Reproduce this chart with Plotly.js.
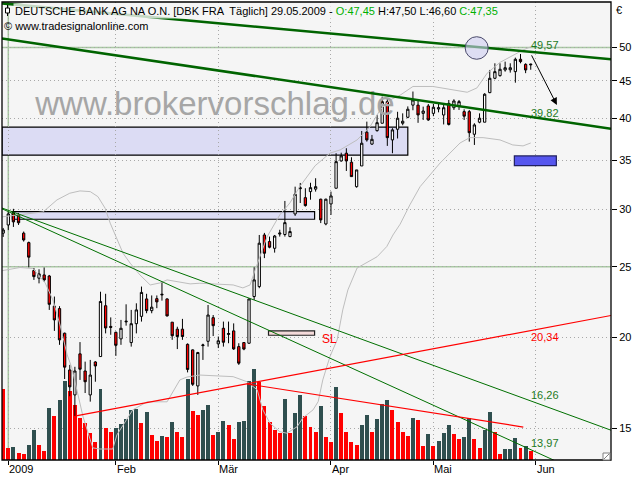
<!DOCTYPE html>
<html><head><meta charset="utf-8">
<script src="https://cdn.plot.ly/plotly-3.0.1.min.js"></script>
<style>html,body{margin:0;padding:0;background:#fff}</style>
</head><body>
<div id="chart" style="width:640px;height:480px"></div>
<script>
// ---- data (DBK Xetra, daily) ----
const dates = ['2008-12-30',
 '2009-01-02','2009-01-05','2009-01-06','2009-01-07','2009-01-08','2009-01-09','2009-01-12','2009-01-13','2009-01-14','2009-01-15','2009-01-16',
 '2009-01-19','2009-01-20','2009-01-21','2009-01-22','2009-01-23','2009-01-26','2009-01-27','2009-01-28','2009-01-29','2009-01-30',
 '2009-02-02','2009-02-03','2009-02-04','2009-02-05','2009-02-06','2009-02-09','2009-02-10','2009-02-11','2009-02-12','2009-02-13',
 '2009-02-16','2009-02-17','2009-02-18','2009-02-19','2009-02-20','2009-02-23','2009-02-24','2009-02-25','2009-02-26','2009-02-27',
 '2009-03-02','2009-03-03','2009-03-04','2009-03-05','2009-03-06','2009-03-09','2009-03-10','2009-03-11','2009-03-12','2009-03-13',
 '2009-03-16','2009-03-17','2009-03-18','2009-03-19','2009-03-20','2009-03-23','2009-03-24','2009-03-25','2009-03-26','2009-03-27','2009-03-30','2009-03-31',
 '2009-04-01','2009-04-02','2009-04-03','2009-04-06','2009-04-07','2009-04-08','2009-04-09','2009-04-14','2009-04-15','2009-04-16','2009-04-17',
 '2009-04-20','2009-04-21','2009-04-22','2009-04-23','2009-04-24','2009-04-27','2009-04-28','2009-04-29','2009-04-30',
 '2009-05-04','2009-05-05','2009-05-06','2009-05-07','2009-05-08','2009-05-11','2009-05-12','2009-05-13','2009-05-14','2009-05-15',
 '2009-05-18','2009-05-19','2009-05-20','2009-05-21','2009-05-22','2009-05-25','2009-05-26','2009-05-27','2009-05-28','2009-05-29'];

const openP = [27.80,28.53,29.63,29.45,27.80,26.98,24.70,24.11,24.36,24.28,22.07,
 21.90,20.26,18.04,16.67,18.98,17.98,16.67,18.50,18.82,22.10,
 20.70,20.32,19.90,21.00,19.67,20.88,21.37,22.58,21.76,22.60,
 22.92,22.58,20.98,20.52,20.52,19.56,19.22,17.15,19.48,19.75,
 21.28,19.59,20.58,20.18,20.41,19.42,19.67,19.63,22.75,23.48,
 27.64,27.07,26.50,27.72,27.68,27.50,29.54,32.00,31.10,31.70,
 31.95,30.95,28.62,30.49,32.04,34.93,35.79,34.79,32.20,34.38,
 38.25,36.84,38.44,39.35,42.13,37.33,38.61,39.35,40.10,41.67,
 41.67,40.60,41.56,40.60,41.16,40.39,41.90,41.33,41.56,40.82,
 40.82,38.00,39.48,39.48,43.35,45.36,45.74,46.57,46.60,46.32,
 48.17,47.40,47.45];
const highP = [28.26,29.74,30.02,29.63,27.94,27.07,24.90,24.80,24.94,24.36,22.75,
 22.07,20.30,18.33,18.22,19.70,18.52,18.62,18.55,23.10,22.95,
 21.30,20.36,21.13,22.20,21.81,22.27,23.48,22.95,22.83,22.83,
 23.85,22.62,20.98,20.68,21.20,19.62,19.25,19.10,19.60,22.15,
 21.46,20.05,21.02,21.02,20.90,19.63,19.70,22.60,24.96,27.64,
 27.82,27.50,27.64,28.10,30.78,28.32,32.20,32.58,32.04,32.60,
 33.07,31.00,31.00,31.70,35.79,35.85,36.36,35.34,33.95,38.40,
 39.55,37.92,40.40,42.80,42.58,38.74,40.80,40.60,41.50,43.50,
 42.35,41.47,41.82,41.82,41.82,41.90,42.35,42.45,42.35,41.12,
 41.04,39.35,40.60,43.27,46.57,47.56,47.56,47.81,47.56,48.42,
 48.98,47.56,47.50];
const lowP = [27.47,28.08,28.35,28.53,27.07,24.94,23.98,23.72,23.85,21.81,20.41,
 19.53,17.53,16.60,15.60,17.48,16.77,16.32,17.38,18.82,20.25,
 20.16,18.86,19.53,20.75,19.42,20.25,21.02,21.58,21.58,21.93,
 22.46,21.36,19.84,19.27,19.84,17.90,17.15,16.67,18.62,19.42,
 20.08,19.33,19.42,19.63,19.22,18.33,19.20,19.60,22.51,23.36,
 25.69,26.50,26.14,27.50,27.50,27.45,29.36,30.58,30.23,30.90,
 31.70,28.70,28.50,29.45,32.04,34.85,33.84,33.24,32.10,34.38,
 37.13,36.74,38.32,39.35,36.63,35.79,37.50,39.10,39.98,41.00,
 39.40,39.76,39.65,40.24,40.73,39.20,39.07,41.04,41.04,39.76,
 37.13,36.74,39.35,39.48,43.27,45.22,45.60,46.32,46.18,44.73,
 47.56,46.10,46.60];
const closeP = [28.08,29.54,28.81,28.73,27.21,25.77,24.23,24.44,23.98,22.20,21.13,
 19.84,18.20,17.10,17.98,18.08,17.38,17.75,18.27,22.40,20.60,
 20.64,19.50,20.58,21.04,20.88,21.81,23.05,21.76,22.00,22.37,
 22.88,21.40,20.10,20.05,20.05,18.07,17.24,19.06,19.52,21.46,
 20.75,19.78,19.69,20.24,19.28,18.43,19.27,22.58,23.98,26.93,
 26.09,26.59,27.55,27.80,28.74,27.94,31.44,32.08,30.33,32.10,
 32.20,28.99,30.95,31.27,34.85,35.49,34.93,33.24,33.95,36.94,
 37.33,37.40,39.42,42.13,37.60,38.53,39.98,39.60,41.13,42.35,
 40.40,40.90,39.76,41.39,41.33,41.33,39.20,42.22,42.13,40.24,
 38.19,39.14,39.98,43.13,45.36,46.32,46.67,46.90,46.90,48.17,
 47.81,46.57,47.35];
// volume, millions of shares
const volume = [7.80,1.35,1.46,0.80,0.66,1.64,3.29,1.64,1.02,5.67,4.82,
 6.58,8.59,7.49,6.03,4.57,4.02,2.99,2.01,7.79,3.54,
 3.10,3.54,3.95,4.46,5.48,5.54,4.09,5.19,2.74,2.12,
 2.63,2.49,4.17,3.10,2.55,8.85,5.30,4.93,5.41,6.03,
 2.74,3.10,4.31,3.84,2.27,4.20,4.22,8.66,9.98,8.48,
 5.95,4.20,3.29,2.99,6.69,2.99,5.12,7.13,4.82,3.65,
 3.10,5.95,2.55,2.01,7.93,5.12,3.10,2.01,1.64,3.84,
 4.93,3.10,4.50,6.11,6.58,5.48,4.20,3.10,2.66,4.64,
 4.39,1.54,2.85,1.54,2.12,2.99,3.84,2.85,2.30,2.55,
 4.57,2.30,1.35,3.29,5.19,3.10,0.66,1.21,1.22,2.45,
 1.35,1.54,0.99];

// Bollinger bands (read at sample positions, trading-day index)
const bbUpIdx = [-1.2,6.8,9.5,12.0,14.0,16.0,17.5,18.9,19.9,21.2,22.4,23.8,25.7,27.7,29.6,31.0,32.9,35.5,37.4,41.3,43.9,45.8,47.2,48.2,50.5,53.0,55.0,56.9,59.9,62.8,64.8,68.1,70.6,72.6,74.5,76.5,79.0,82.9,86.8,89.6,91.5,93.5,96.0,98.5,100.5,102];
const bbUpVal = [29.27,29.73,30.88,31.54,31.77,31.70,31.20,30.08,28.69,27.36,26.09,25.28,24.36,23.60,23.75,23.98,23.83,23.68,23.73,23.68,23.60,23.38,23.60,24.75,27.46,29.45,30.60,32.20,34.40,35.80,36.17,37.33,38.90,41.04,42.35,43.00,44.20,44.20,43.70,43.40,44.00,46.10,47.70,48.80,49.60,50.10];
const bbLoIdx = [-1.2,2.3,4.8,6.2,7.2,8.7,10.1,11.5,12.4,14.6,16.5,17.9,20.4,21.2,24.3,27.1,31.0,33.5,34.9,37.4,41.3,43.9,46.6,48.6,49.7,51.1,53.0,54.4,56.4,57.5,59.5,60.5,61.4,62.8,64.2,65.3,66.3,68.1,72.0,73.9,75.1,76.5,78.4,80.4,84.3,88.2,90.1,92.7,96.0,98.5,100.5,102];
const bbLoVal = [24.69,24.94,24.86,24.23,23.75,22.51,20.80,18.92,18.16,15.55,14.10,14.05,14.05,14.69,15.90,16.31,16.31,17.48,17.64,17.75,17.70,17.66,17.38,16.94,15.90,15.24,14.84,14.77,15.08,15.50,15.90,16.32,17.48,18.82,19.84,21.81,23.23,24.90,25.80,26.65,27.64,28.60,30.40,32.20,34.70,36.97,37.60,37.60,37.33,36.74,36.63,36.97];

// trend lines: [startIdx, endIdx], [startValue, endValue]
const lineUpperIdx = [-1.23, 117.67], lineUpperVal = [57.48, 48.17];
const lineLowerIdx = [-1.23, 117.67], lineLowerVal = [51.45, 38.67];
const lineThinAIdx = [-1.23, 117.67], lineThinAVal = [30.10, 14.91];
const lineThinBIdx = [-1.23, 117.67], lineThinBVal = [30.03, 12.49];
const lineRedUpIdx = [13.2, 117.67], lineRedUpVal = [15.60, 21.43];
const lineRedDnIdx = [46.6, 100.55], lineRedDnVal = [17.26, 15.06];

// line value labels at last bar
const labelValues = [49.57, 39.82, 20.34, 16.26, 13.97];
const labelColors = ['#1E7A1E', '#1E7A1E', '#FF0000', '#1E7A1E', '#1E7A1E'];

// zones (index range, price range)
const zoneBig = {x: [-1.23, 78.0], y: [35.57, 38.86]};
const zoneSmall = {x: [0.78, 59.8], y: [29.05, 29.76]};
const zoneSL = {x: [50.8, 59.8], y: [20.13, 20.41]};
const zoneTarget = {x: [98.8, 107.0], y: [34.41, 35.49]};
const zoneCircle = {x: [89.2, 93.7], y: [48.17, 51.73]};

const tickPos = [0, 21, 41, 63, 83, 103];
const tickLabels = ['2009', 'Feb', 'Mär', 'Apr', 'Mai', 'Jun'];
const priceTicks = [15, 20, 25, 30, 35, 40, 45, 50];

// ---- build ----
const xi = dates.map((d, i) => i - 1);
const volColors = volume.map((v, i) => (i > 0 && v > volume[i - 1]) ? '#2F4F4F' : '#FF0000');
const FONT = 'Liberation Sans, Arial, sans-serif';
const X0 = -1.23, X1 = 117.67;

const traces = [
  {type: 'bar', x: xi, y: volume, width: 0.78, marker: {color: volColors, line: {width: 0}},
   yaxis: 'y', hoverinfo: 'skip'},
  {type: 'scatter', mode: 'lines', x: bbUpIdx, y: bbUpVal, yaxis: 'y2',
   line: {color: '#BEBEBE', width: 1}, hoverinfo: 'skip'},
  {type: 'scatter', mode: 'lines', x: bbLoIdx, y: bbLoVal, yaxis: 'y2',
   line: {color: '#BEBEBE', width: 1}, hoverinfo: 'skip'},
  {type: 'scatter', mode: 'text', x: [40.35], y: [41.4], text: ['www.brokervorschlag.de'],
   textposition: 'middle center', yaxis: 'y2',
   textfont: {family: FONT, size: 33, color: '#A6A6A6'}, hoverinfo: 'skip'},
  {type: 'candlestick', x: xi, open: openP, high: highP, low: lowP, close: closeP, yaxis: 'y2',
   increasing: {line: {color: '#000000', width: 1}, fillcolor: '#FFFFFF'},
   decreasing: {line: {color: '#000000', width: 1}, fillcolor: '#FF0000'},
   whiskerwidth: 0, hoverinfo: 'skip'},
  {type: 'scatter', mode: 'lines', x: lineThinAIdx, y: lineThinAVal, yaxis: 'y2', line: {color: '#007000', width: 1}, hoverinfo: 'skip'},
  {type: 'scatter', mode: 'lines', x: lineThinBIdx, y: lineThinBVal, yaxis: 'y2', line: {color: '#007000', width: 1}, hoverinfo: 'skip'},
  {type: 'scatter', mode: 'lines', x: lineRedUpIdx, y: lineRedUpVal, yaxis: 'y2', line: {color: '#FF0000', width: 1.2}, hoverinfo: 'skip'},
  {type: 'scatter', mode: 'lines', x: lineRedDnIdx, y: lineRedDnVal, yaxis: 'y2', line: {color: '#FF0000', width: 1.2}, hoverinfo: 'skip'},
  {type: 'scatter', mode: 'lines', x: lineUpperIdx, y: lineUpperVal, yaxis: 'y2', line: {color: '#006400', width: 2.6}, hoverinfo: 'skip'},
  {type: 'scatter', mode: 'lines', x: lineLowerIdx, y: lineLowerVal, yaxis: 'y2', line: {color: '#006400', width: 2.6}, hoverinfo: 'skip'}
];

function rect(z, fill, lineColor, layer) {
  return {type: 'rect', xref: 'x', yref: 'y2', x0: z.x[0], x1: z.x[1], y0: z.y[0], y1: z.y[1],
          fillcolor: fill, line: {color: lineColor, width: 1.2}, layer: layer || 'below'};
}
const px = v => (v - 2) / 609;        // pixel -> paper (x)
const py = v => (460 - v) / 458;      // pixel -> paper (y)

const shapes = [
  {type: 'line', xref: 'paper', x0: 0, x1: 1, yref: 'y2', y0: 50, y1: 50, line: {color: '#A9C9A3', width: 1.5}, layer: 'below'},
  {type: 'line', xref: 'paper', x0: 0, x1: 1, yref: 'y2', y0: 25, y1: 25, line: {color: '#A9C9A3', width: 1.5}, layer: 'below'},
  {type: 'line', xref: 'x', x0: 0, x1: 0, yref: 'paper', y0: 0, y1: 1, line: {color: '#A9C9A3', width: 1.5}, layer: 'below'},
  rect(zoneBig, '#DCDCF4', '#000000'),
  rect(zoneSmall, '#DCDCF4', '#000000'),
  rect(zoneSL, '#F4DADA', '#202020'),
  rect(zoneTarget, '#5656EE', '#202060', 'above'),
  {type: 'circle', xref: 'x', yref: 'y2', x0: zoneCircle.x[0], x1: zoneCircle.x[1], y0: zoneCircle.y[0], y1: zoneCircle.y[1],
   fillcolor: 'rgba(206,206,242,0.6)', line: {color: '#4A4A6A', width: 1}, layer: 'above'},
  {type: 'rect', xref: 'paper', yref: 'paper', x0: 0, x1: 1, y0: 0, y1: 1, line: {color: '#000', width: 1.3}, fillcolor: 'rgba(0,0,0,0)', layer: 'above'},
  // small candle glyph before title
  {type: 'line', xref: 'paper', yref: 'paper', x0: px(7.5), x1: px(7.5), y0: py(5), y1: py(16), line: {color: '#000', width: 1}, layer: 'above'},
  {type: 'rect', xref: 'paper', yref: 'paper', x0: px(5.5), x1: px(9.5), y0: py(13), y1: py(8), fillcolor: '#FFFFFF', line: {color: '#000', width: 1}, layer: 'above'},
  // resize glyph bottom right
  {type: 'rect', xref: 'paper', yref: 'paper', x0: px(603), x1: px(610), y0: py(460), y1: py(453), fillcolor: '#FFFFFF', line: {color: '#808080', width: 1}, layer: 'above'},
  {type: 'line', xref: 'paper', yref: 'paper', x0: px(604), x1: px(609), y0: py(459), y1: py(454), line: {color: '#808080', width: 1}, layer: 'above'}
];

const labelShift = [5, 6, -5.5, 8, 8];
const annotations = [];
tickPos.forEach((p, i) => annotations.push({
  x: p, xref: 'x', y: 0, yref: 'paper', yanchor: 'top', xanchor: 'left', xshift: -1, yshift: -1,
  text: tickLabels[i], showarrow: false, font: {family: FONT, size: 11, color: '#000'}
}));
labelValues.forEach((v, i) => annotations.push({
  x: 102, xref: 'x', y: Math.log10(v), yref: 'y2', xanchor: 'left', yanchor: 'middle', xshift: -2, yshift: labelShift[i],
  text: v.toFixed(2).replace('.', ','), showarrow: false, font: {family: FONT, size: 11, color: labelColors[i]}
}));
annotations.push({x: 60.85, xref: 'x', y: Math.log10(19.9), yref: 'y2', xanchor: 'left', yanchor: 'middle',
  text: 'SL', showarrow: false, font: {family: FONT, size: 12, color: '#FF0000'}});
annotations.push({x: 107.1, xref: 'x', y: Math.log10(41.7), yref: 'y2', ax: -26, ay: -51, text: '',
  showarrow: true, arrowhead: 2, arrowsize: 1.4, arrowwidth: 1, arrowcolor: '#000', standoff: 0});
annotations.push({x: 0, xref: 'paper', xanchor: 'left', xshift: 11, y: 1, yref: 'paper', yanchor: 'top', yshift: -1,
  text: 'DEUTSCHE BANK AG NA O.N. [DBK FRA  Täglich] 29.05.2009 - <span style="color:#00B000">O:47,45</span> H:47,50 L:46,60 <span style="color:#00B000">C:47,35</span>',
  showarrow: false, bgcolor: 'rgba(245,245,245,0.8)', font: {family: FONT, size: 11, color: '#000'}});
annotations.push({x: 0, xref: 'paper', xanchor: 'left', xshift: 0, y: 1, yref: 'paper', yanchor: 'top', yshift: -16,
  text: '© www.tradesignalonline.com', showarrow: false, font: {family: FONT, size: 11, color: '#000'}});
annotations.push({x: 1, xref: 'paper', xanchor: 'left', xshift: 3, y: 1, yref: 'paper', yanchor: 'top', yshift: 0,
  text: '€', showarrow: false, font: {family: FONT, size: 11, color: '#000'}});

const layout = {
  width: 640, height: 480,
  margin: {l: 2, r: 29, t: 2, b: 20, pad: 0},
  paper_bgcolor: '#FFFFFF', plot_bgcolor: '#F5F5F5',
  showlegend: false, boxgap: 0.36, bargap: 0,
  font: {family: FONT, size: 11, color: '#000'},
  xaxis: {range: [X0, X1], tickvals: tickPos, ticks: 'outside', ticklen: 4, tickcolor: '#000',
          showticklabels: false, showgrid: true, gridcolor: '#A8A8A8', griddash: '1px,3px',
          zeroline: false, showline: false, fixedrange: true, rangeslider: {visible: false}},
  yaxis: {range: [0, 50], visible: false, fixedrange: true},
  yaxis2: {type: 'log', overlaying: 'y', side: 'right', range: [Math.log10(13.57), Math.log10(57.73)],
           tickvals: priceTicks, ticktext: priceTicks.map(String), ticks: 'outside', ticklen: 5, tickcolor: '#000',
           showgrid: true, gridcolor: '#A8A8A8', griddash: '1px,3px', zeroline: false, showline: false,
           tickfont: {family: FONT, size: 11, color: '#000'}, fixedrange: true},
  shapes: shapes, annotations: annotations
};

Plotly.newPlot('chart', traces, layout, {displayModeBar: false, staticPlot: true});
</script>
</body></html>
